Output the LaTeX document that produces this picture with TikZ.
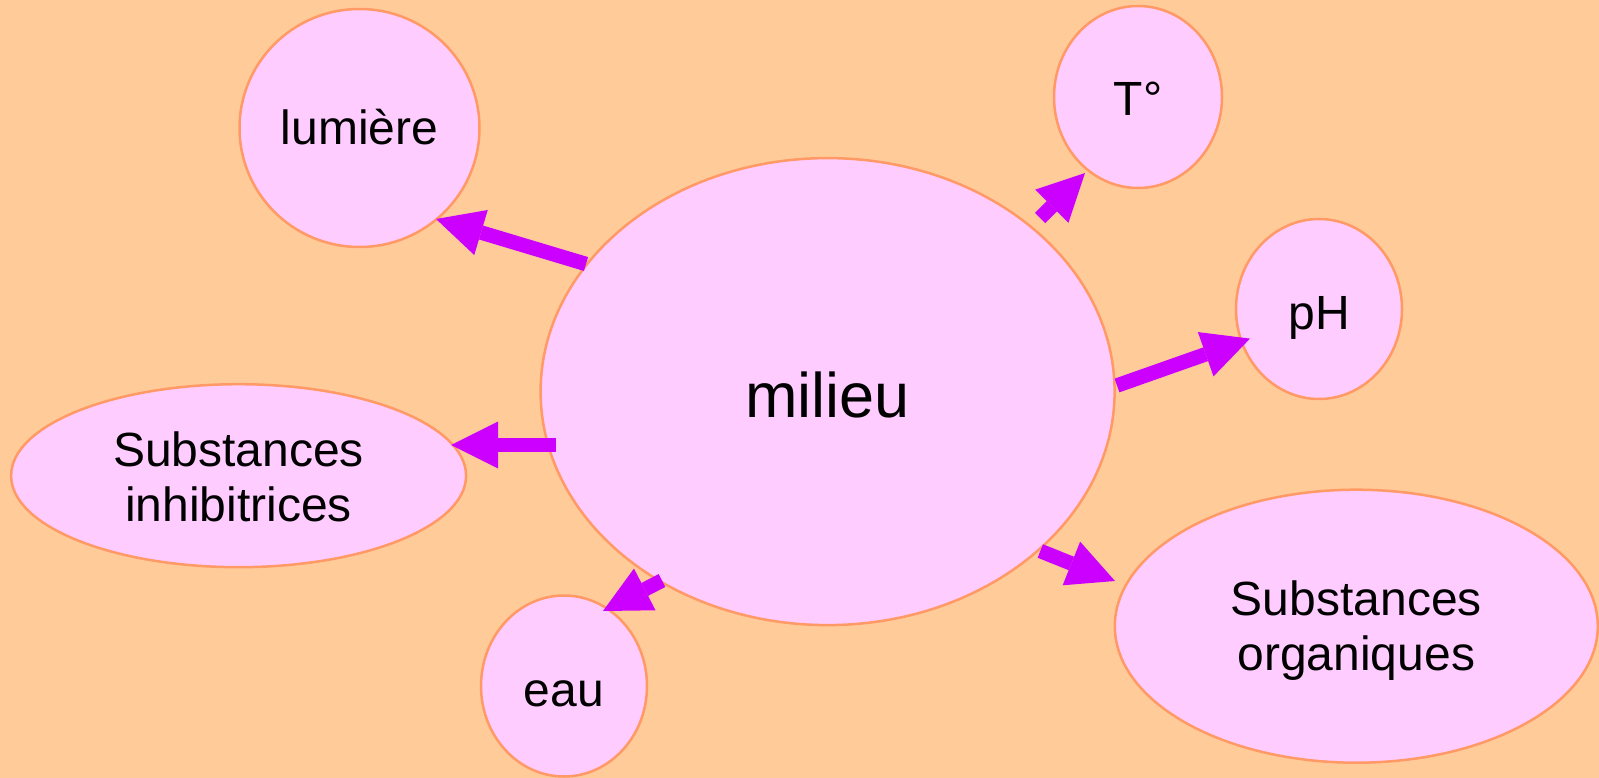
\documentclass[tikz,border=0pt]{standalone}
\usepackage{fontspec}
\setmainfont{Liberation Sans}
\usetikzlibrary{shapes.geometric,arrows.meta}
\definecolor{bgc}{HTML}{FFCC99}
\definecolor{nodefill}{HTML}{FFCCFF}
\definecolor{nodeline}{HTML}{FF9966}
\definecolor{arrc}{HTML}{CC00FF}
\newcommand\lowered[2]{\raisebox{-#1}[0pt][0pt]{#2}}
\newcommand\twolines[2]{\begin{tabular}[b]{@{}c@{}}#1\\#2\end{tabular}}
\tikzset{
  bubble/.style={ellipse,draw=nodeline,fill=nodefill,line width=2.5pt,inner sep=0pt,
    font=\fontsize{48}{55}\selectfont},
  blockarrow/.style={draw=arrc,line width=14.5pt,
    -{Triangle[length=47pt,width=47pt,line width=0pt,fill=arrc]}}
}
\begin{document}
\begin{tikzpicture}[x=1pt,y=-1pt]
\fill[bgc] (0,0) rectangle (1599,778);
\useasboundingbox (0,0) rectangle (1599,778);
\node[bubble,minimum width=574pt,minimum height=467pt,font=\fontsize{63}{70}\selectfont] (milieu) at (827.6,391.6) {\lowered{26pt}{milieu}};
\node[bubble,minimum width=240pt,minimum height=238pt] (lumiere) at (359.5,128) {\lowered{17pt}{lumière}};
\node[bubble,minimum width=168pt,minimum height=182pt] (temp) at (1138,97) {\lowered{19pt}{T°}};
\node[bubble,minimum width=166pt,minimum height=180pt] (ph) at (1319,309) {\lowered{20pt}{pH}};
\node[bubble,minimum width=455pt,minimum height=183pt] (inhib) at (238.6,475.7) {\lowered{46pt}{\twolines{Substances}{inhibitrices}}};
\node[bubble,minimum width=166pt,minimum height=181pt] (eau) at (564,686) {\lowered{20pt}{eau}};
\node[bubble,minimum width=483pt,minimum height=273pt] (orga) at (1356.3,626.2) {\lowered{44pt}{\twolines{Substances}{organiques}}};
% arrow end points
\coordinate (a1s) at (586,264);   \coordinate (a1e) at (436,219);
\coordinate (a2s) at (1040,218);  \coordinate (a2e) at (1085,173);
\coordinate (a3s) at (1117,385.5);\coordinate (a3e) at (1250,338.6);
\coordinate (a4s) at (556,445);   \coordinate (a4e) at (451,445);
\coordinate (a5s) at (662,580.5); \coordinate (a5e) at (603,611);
\coordinate (a6s) at (1040.3,551);\coordinate (a6e) at (1115,581);
\draw[blockarrow] (a1s) -- (a1e);
\draw[blockarrow] (a2s) -- (a2e);
\draw[blockarrow] (a3s) -- (a3e);
\draw[blockarrow] (a4s) -- (a4e);
\draw[blockarrow] (a5s) -- (a5e);
\draw[blockarrow] (a6s) -- (a6e);
\end{tikzpicture}
\end{document}
